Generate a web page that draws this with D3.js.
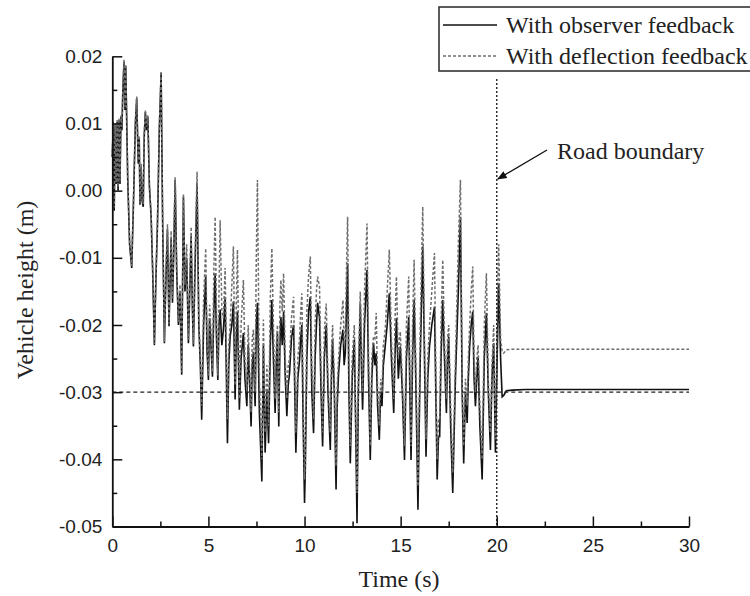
<!DOCTYPE html>
<html><head><meta charset="utf-8">
<script src="https://cdn.jsdelivr.net/npm/d3@7"></script>
<style>
html,body{margin:0;padding:0;background:#fff;}
svg{display:block;}
</style></head>
<body>
<svg id="chart" width="750" height="596"></svg>
<script>
// ---- data ----
const seriesNames = ["With observer feedback", "With deflection feedback"];
const timeS = [0.00,0.05,0.10,0.15,0.20,0.25,0.30,0.35,0.40,0.45,0.50,0.55,0.61,0.66,0.70,0.80,0.90,1.01,1.10,1.20,1.27,1.35,1.40,1.44,1.50,1.55,1.61,1.66,1.72,1.78,1.85,1.93,2.02,2.10,2.19,2.27,2.35,2.45,2.54,2.62,2.71,2.80,2.87,2.95,3.06,3.13,3.20,3.27,3.35,3.44,3.52,3.61,3.70,3.78,3.87,3.96,4.03,4.10,4.17,4.22,4.30,4.41,4.50,4.58,4.65,4.75,4.86,4.93,5.00,5.06,5.12,5.21,5.28,5.35,5.42,5.49,5.55,5.61,5.70,5.78,5.87,5.99,6.06,6.13,6.22,6.30,6.39,6.45,6.51,6.61,6.70,6.82,6.90,7.00,7.07,7.14,7.22,7.28,7.34,7.43,7.49,7.55,7.65,7.78,7.86,7.95,8.04,8.13,8.22,8.30,8.38,8.47,8.53,8.59,8.66,8.72,8.77,8.84,8.91,9.00,9.08,9.15,9.22,9.32,9.43,9.55,9.65,9.74,9.80,9.86,9.93,10.00,10.04,10.12,10.21,10.30,10.38,10.47,10.55,10.62,10.68,10.78,10.86,10.94,11.03,11.13,11.22,11.34,11.40,11.46,11.55,11.64,11.70,11.77,11.88,12.00,12.06,12.12,12.18,12.24,12.31,12.38,12.48,12.59,12.66,12.73,12.80,12.90,12.96,13.02,13.12,13.25,13.33,13.42,13.50,13.59,13.66,13.73,13.80,13.89,13.96,14.03,14.10,14.20,14.30,14.41,14.52,14.64,14.70,14.78,14.88,14.98,15.09,15.20,15.30,15.42,15.48,15.54,15.62,15.70,15.80,15.90,16.02,16.15,16.24,16.32,16.41,16.50,16.62,16.76,16.84,16.90,16.97,17.03,17.10,17.19,17.28,17.38,17.44,17.50,17.60,17.71,17.85,18.00,18.11,18.20,18.28,18.37,18.46,18.52,18.59,18.67,18.75,18.82,18.89,18.96,19.03,19.12,19.24,19.35,19.46,19.56,19.67,19.75,19.84,19.93,20.02,20.10,20.20,20.28,20.36,20.50,20.80,21.50,30.00];
const observerFeedback = [0.0050,0.0100,-0.0030,0.0098,0.0010,0.0102,0.0000,0.0105,0.0010,0.0110,0.0090,0.0150,0.0192,0.0120,0.0185,0.0020,-0.0080,-0.0115,-0.0020,0.0100,0.0137,0.0040,0.0080,-0.0021,0.0035,-0.0015,-0.0024,0.0080,0.0117,0.0090,0.0110,0.0006,-0.0039,-0.0120,-0.0230,-0.0130,-0.0050,0.0095,0.0175,-0.0050,-0.0227,-0.0120,-0.0058,-0.0202,-0.0070,-0.0167,-0.0090,0.0016,-0.0120,-0.0200,-0.0150,-0.0274,-0.0009,-0.0150,-0.0100,-0.0227,-0.0150,-0.0068,-0.0180,-0.0232,-0.0120,0.0011,-0.0200,-0.0260,-0.0341,-0.0200,-0.0128,-0.0240,-0.0282,-0.0190,-0.0222,-0.0277,-0.0180,-0.0123,-0.0220,-0.0282,-0.0200,-0.0177,-0.0230,-0.0207,-0.0160,-0.0376,-0.0260,-0.0217,-0.0200,-0.0165,-0.0311,-0.0220,-0.0180,-0.0326,-0.0250,-0.0212,-0.0280,-0.0321,-0.0230,-0.0282,-0.0351,-0.0260,-0.0240,-0.0321,-0.0200,-0.0167,-0.0330,-0.0433,-0.0230,-0.0390,-0.0300,-0.0376,-0.0230,-0.0163,-0.0250,-0.0331,-0.0260,-0.0212,-0.0351,-0.0230,-0.0188,-0.0230,-0.0180,-0.0280,-0.0336,-0.0290,-0.0272,-0.0220,-0.0200,-0.0390,-0.0280,-0.0252,-0.0220,-0.0200,-0.0350,-0.0465,-0.0416,-0.0250,-0.0180,-0.0158,-0.0300,-0.0361,-0.0250,-0.0200,-0.0167,-0.0190,-0.0300,-0.0381,-0.0250,-0.0200,-0.0300,-0.0386,-0.0280,-0.0222,-0.0300,-0.0445,-0.0320,-0.0272,-0.0230,-0.0207,-0.0260,-0.0242,-0.0180,-0.0108,-0.0300,-0.0406,-0.0280,-0.0222,-0.0350,-0.0495,-0.0300,-0.0168,-0.0260,-0.0326,-0.0200,-0.0118,-0.0280,-0.0401,-0.0280,-0.0227,-0.0260,-0.0242,-0.0320,-0.0371,-0.0300,-0.0321,-0.0260,-0.0230,-0.0200,-0.0153,-0.0250,-0.0331,-0.0250,-0.0190,-0.0280,-0.0232,-0.0300,-0.0401,-0.0250,-0.0188,-0.0300,-0.0401,-0.0250,-0.0163,-0.0300,-0.0475,-0.0250,-0.0083,-0.0250,-0.0396,-0.0280,-0.0232,-0.0200,-0.0173,-0.0320,-0.0430,-0.0366,-0.0366,-0.0250,-0.0163,-0.0250,-0.0331,-0.0250,-0.0217,-0.0350,-0.0450,-0.0280,-0.0150,-0.0039,-0.0300,-0.0406,-0.0300,-0.0346,-0.0280,-0.0232,-0.0200,-0.0180,-0.0280,-0.0321,-0.0280,-0.0247,-0.0350,-0.0430,-0.0250,-0.0182,-0.0300,-0.0386,-0.0280,-0.0227,-0.0390,-0.0250,-0.0138,-0.0250,-0.0307,-0.0305,-0.0298,-0.0297,-0.0296,-0.0296];
const deflectionFeedback = [0.0050,0.0103,-0.0025,0.0100,0.0012,0.0105,0.0005,0.0108,0.0015,0.0112,0.0095,0.0155,0.0195,0.0125,0.0188,0.0025,-0.0075,-0.0112,-0.0015,0.0105,0.0140,0.0045,0.0082,-0.0018,0.0040,-0.0010,-0.0020,0.0085,0.0120,0.0095,0.0112,0.0010,-0.0035,-0.0115,-0.0228,-0.0125,-0.0045,0.0098,0.0178,-0.0045,-0.0225,-0.0110,-0.0050,-0.0198,-0.0060,-0.0160,-0.0070,0.0020,-0.0115,-0.0195,-0.0140,-0.0270,-0.0005,-0.0140,-0.0080,-0.0222,-0.0130,-0.0054,-0.0170,-0.0228,-0.0100,0.0028,-0.0190,-0.0250,-0.0320,-0.0160,-0.0086,-0.0220,-0.0275,-0.0170,-0.0200,-0.0270,-0.0120,-0.0039,-0.0180,-0.0275,-0.0150,-0.0044,-0.0180,-0.0190,-0.0115,-0.0340,-0.0230,-0.0200,-0.0140,-0.0083,-0.0290,-0.0170,-0.0088,-0.0310,-0.0200,-0.0133,-0.0250,-0.0300,-0.0200,-0.0265,-0.0330,-0.0220,-0.0207,-0.0300,-0.0100,0.0016,-0.0280,-0.0400,-0.0192,-0.0360,-0.0260,-0.0350,-0.0160,-0.0086,-0.0200,-0.0310,-0.0230,-0.0200,-0.0330,-0.0170,-0.0133,-0.0180,-0.0123,-0.0250,-0.0310,-0.0260,-0.0250,-0.0190,-0.0158,-0.0360,-0.0250,-0.0220,-0.0180,-0.0153,-0.0300,-0.0430,-0.0400,-0.0180,-0.0128,-0.0098,-0.0260,-0.0340,-0.0200,-0.0150,-0.0128,-0.0143,-0.0270,-0.0360,-0.0210,-0.0168,-0.0280,-0.0360,-0.0240,-0.0200,-0.0280,-0.0410,-0.0290,-0.0250,-0.0200,-0.0163,-0.0230,-0.0220,-0.0120,-0.0039,-0.0250,-0.0380,-0.0250,-0.0200,-0.0330,-0.0450,-0.0270,-0.0150,-0.0230,-0.0300,-0.0150,-0.0049,-0.0240,-0.0380,-0.0250,-0.0217,-0.0220,-0.0182,-0.0290,-0.0350,-0.0280,-0.0300,-0.0230,-0.0207,-0.0150,-0.0088,-0.0220,-0.0310,-0.0200,-0.0128,-0.0250,-0.0210,-0.0280,-0.0380,-0.0200,-0.0128,-0.0270,-0.0380,-0.0200,-0.0103,-0.0270,-0.0440,-0.0200,-0.0024,-0.0220,-0.0370,-0.0250,-0.0200,-0.0150,-0.0093,-0.0290,-0.0400,-0.0340,-0.0340,-0.0200,-0.0103,-0.0220,-0.0310,-0.0220,-0.0200,-0.0320,-0.0420,-0.0250,-0.0080,0.0016,-0.0280,-0.0380,-0.0280,-0.0320,-0.0250,-0.0200,-0.0150,-0.0113,-0.0250,-0.0300,-0.0250,-0.0230,-0.0320,-0.0400,-0.0200,-0.0123,-0.0280,-0.0360,-0.0260,-0.0200,-0.0370,-0.0200,-0.0080,-0.0220,-0.0240,-0.0242,-0.0237,-0.0236,-0.0236,-0.0236];
const referenceHeight = -0.03;       // dashed reference level
const roadBoundaryTime = 20;         // road boundary (s)
const xTicks = [0,5,10,15,20,25,30];
const xMinorTicks = [2.5,7.5,12.5,17.5,22.5,27.5];
const yTicks = [0.02,0.01,0.00,-0.01,-0.02,-0.03,-0.04,-0.05];
const yMinorTicks = [0.015,0.005,-0.005,-0.015,-0.025,-0.035,-0.045];

// ---- layout ----
const svg = d3.select("#chart");
const x = d3.scaleLinear().domain([0,30]).range([112.3,689]);
const y = d3.scaleLinear().domain([-0.05,0.02]).range([526.5,56.3]);
const sans = "'Liberation Sans', Arial, sans-serif";
const serif = "'Liberation Serif', 'Times New Roman', serif";
const fmtY = v => d3.format(".2f")(v).replace("\u2212","-");

// data lines
const obsData = timeS.map((t,i)=>[t, observerFeedback[i]]);
const defData = timeS.map((t,i)=>[t, deflectionFeedback[i]]);
const line = d3.line().x(d=>x(d[0])).y(d=>y(d[1]));

svg.append("path").datum(obsData).attr("d", line)
  .attr("fill","none").attr("stroke","#111").attr("stroke-width",1.6);
svg.append("path").datum(defData).attr("d", line)
  .attr("fill","none").attr("stroke","#6e6e6e").attr("stroke-width",1.5)
  .attr("stroke-dasharray","3,2");

// reference dashed line at -0.03
svg.append("line")
  .attr("x1", x(0)).attr("x2", x(30))
  .attr("y1", y(referenceHeight)).attr("y2", y(referenceHeight))
  .attr("stroke","#222").attr("stroke-width",1.4).attr("stroke-dasharray","4,3");

// road boundary vertical dotted line
svg.append("line")
  .attr("x1", x(roadBoundaryTime)).attr("x2", x(roadBoundaryTime))
  .attr("y1", 79).attr("y2", y(-0.05))
  .attr("stroke","#222").attr("stroke-width",1.4).attr("stroke-dasharray","2,2");

// axes
svg.append("g").attr("transform",`translate(0,${y(-0.05)})`)
  .call(d3.axisBottom(x).tickValues(xTicks).tickFormat(d3.format("d"))
    .tickSizeInner(-10).tickSizeOuter(0).tickPadding(12));
svg.append("g").attr("transform",`translate(0,${y(-0.05)})`)
  .call(d3.axisBottom(x).tickValues(xMinorTicks).tickFormat("")
    .tickSizeInner(-5).tickSizeOuter(0))
  .select(".domain").remove();
svg.append("g").attr("transform",`translate(${x(0)},0)`)
  .call(d3.axisLeft(y).tickValues(yTicks).tickFormat(fmtY)
    .tickSizeInner(-10).tickSizeOuter(0).tickPadding(10));
svg.append("g").attr("transform",`translate(${x(0)},0)`)
  .call(d3.axisLeft(y).tickValues(yMinorTicks).tickFormat("")
    .tickSizeInner(-5).tickSizeOuter(0))
  .select(".domain").remove();

svg.selectAll(".domain").attr("stroke","#111").attr("stroke-width",1.8);
svg.selectAll(".tick line").attr("stroke","#111").attr("stroke-width",1.5);
svg.selectAll(".tick text").attr("font-family",sans).attr("font-size",19).attr("fill","#222");

// axis titles
svg.append("text").attr("x",399).attr("y",587).attr("text-anchor","middle")
  .attr("font-family",serif).attr("font-size",24).attr("fill","#222").text("Time (s)");
svg.append("text").attr("transform","translate(33,290) rotate(-90)").attr("text-anchor","middle")
  .attr("font-family",serif).attr("font-size",24).attr("fill","#222").text("Vehicle height (m)");

// annotation: Road boundary with arrow
svg.append("defs").append("marker").attr("id","arrow")
  .attr("viewBox","0 0 10 10").attr("refX",9).attr("refY",5)
  .attr("markerWidth",7).attr("markerHeight",7).attr("orient","auto")
  .append("path").attr("d","M0,1 L10,5 L0,9 z").attr("fill","#111");
svg.append("line").attr("x1",547).attr("y1",150).attr("x2",x(roadBoundaryTime)+1).attr("y2",179)
  .attr("stroke","#111").attr("stroke-width",1.4).attr("marker-end","url(#arrow)");
svg.append("text").attr("x",557).attr("y",159)
  .attr("font-family",serif).attr("font-size",24).attr("fill","#222").text("Road boundary");

// legend
const lg = svg.append("g");
lg.append("rect").attr("x",439).attr("y",7).attr("width",320).attr("height",64)
  .attr("fill","#fff").attr("stroke","#333").attr("stroke-width",1.6);
const legendStyles = [{stroke:"#111",dash:null},{stroke:"#6e6e6e",dash:"3,2"}];
seriesNames.forEach((name,i)=>{
  const cy = 25 + i*31;
  lg.append("line").attr("x1",443).attr("x2",497).attr("y1",cy).attr("y2",cy)
    .attr("stroke",legendStyles[i].stroke).attr("stroke-width",1.4)
    .attr("stroke-dasharray",legendStyles[i].dash);
  lg.append("text").attr("x",506).attr("y",cy+7.5)
    .attr("font-family",serif).attr("font-size",24).attr("fill","#222").text(name);
});
</script>
</body></html>
